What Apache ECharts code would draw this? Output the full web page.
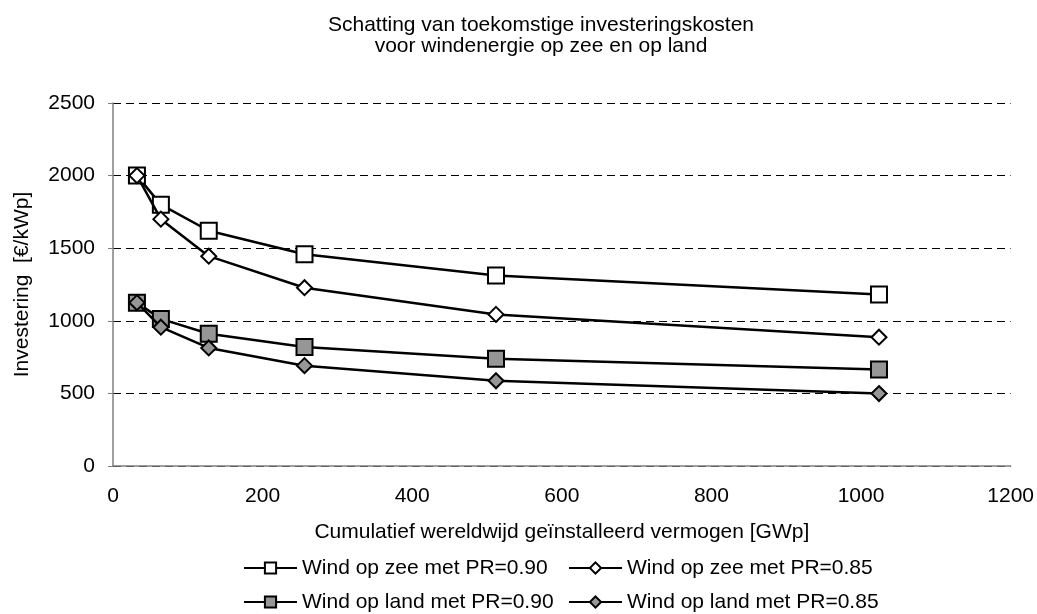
<!DOCTYPE html>
<html>
<head>
<meta charset="utf-8">
<script src="https://cdn.jsdelivr.net/npm/echarts@6/dist/echarts.min.js"></script>
<style>
html,body{margin:0;padding:0;background:#fff;}
#chart{width:1037px;height:614px;}
</style>
</head>
<body>
<div id="chart"></div>
<script>
const titleLines = ['Schatting van toekomstige investeringskosten', 'voor windenergie op zee en op land'];
const xName = 'Cumulatief wereldwijd geïnstalleerd vermogen [GWp]';
const yName = 'Investering  [€/kWp]';
const seriesNames = ['Wind op zee met PR=0.90', 'Wind op zee met PR=0.85', 'Wind op land met PR=0.90', 'Wind op land met PR=0.85'];
const xValues = [32, 64, 128, 256, 512, 1024];
const zee90 = [2000, 1800, 1620, 1458, 1312, 1181];
const zee85 = [2000, 1700, 1445, 1228, 1044, 887];
const land90 = [1125, 1013, 911, 820, 738, 664];
const land85 = [1125, 956, 813, 691, 587, 499];

const FONT = 'Liberation Sans, Arial, sans-serif';
const FS = 21;

function pairs(ys){ return xValues.map((x,i)=>[x, ys[i]]); }

const styles = [
  {data: zee90, symbol: 'rect', fill: '#ffffff', size: 16},
  {data: zee85, symbol: 'diamond', fill: '#ffffff', size: 15},
  {data: land90, symbol: 'rect', fill: '#969696', size: 16},
  {data: land85, symbol: 'diamond', fill: '#969696', size: 15}
];

const series = styles.map((s, i) => ({
  name: seriesNames[i],
  type: 'line',
  data: pairs(s.data),
  symbol: s.symbol,
  symbolSize: s.size,
  showAllSymbol: true,
  lineStyle: {color: '#000', width: 2.5},
  itemStyle: {color: s.fill, borderColor: '#000', borderWidth: 2},
  emphasis: {disabled: true},
  z: 2 + i,
  animation: false
}));

const legendPos = [[243, 557], [568, 557], [243, 591], [568, 591]];
const legends = seriesNames.map((n, i) => ({
  data: [n],
  left: legendPos[i][0],
  top: legendPos[i][1],
  itemWidth: 53,
  itemHeight: 14,
  itemGap: 0,
  padding: 0,
  selectedMode: false,
  textStyle: {fontFamily: FONT, fontSize: FS, color: '#000', lineHeight: 22}
}));

const option = {
  backgroundColor: '#fff',
  animation: false,
  title: {
    text: titleLines.join('\n'),
    left: 536,
    top: 10,
    textAlign: 'center',
    textStyle: {fontFamily: FONT, fontSize: FS, fontWeight: 'normal', color: '#000', lineHeight: 21}
  },
  legend: legends,
  grid: {left: 113, right: 25, top: 103, bottom: 148},
  xAxis: {
    type: 'value',
    min: 0, max: 1200, interval: 200,
    name: xName,
    nameLocation: 'middle',
    nameGap: 56,
    nameTextStyle: {fontFamily: FONT, fontSize: FS, color: '#000'},
    axisLine: {show: true, lineStyle: {color: '#808080', width: 1.5}},
    axisTick: {show: false},
    axisLabel: {fontFamily: FONT, fontSize: FS, color: '#000', margin: 20, formatter: v => String(v)},
    splitLine: {show: false}
  },
  yAxis: {
    type: 'value',
    min: 0, max: 2500, interval: 500,
    name: yName,
    nameLocation: 'middle',
    nameGap: 80,
    nameTextStyle: {fontFamily: FONT, fontSize: FS, color: '#000'},
    axisLine: {show: true, lineStyle: {color: '#808080', width: 1.5}},
    axisTick: {show: true, inside: false, length: 5, lineStyle: {color: '#808080', width: 1}},
    axisLabel: {fontFamily: FONT, fontSize: FS, color: '#000', margin: 18, formatter: v => String(v)},
    splitLine: {show: true, lineStyle: {color: '#000', width: 1, type: [8, 5]}}
  },
  series: series
};

const chart = echarts.init(document.getElementById('chart'), null, {renderer: 'canvas'});
chart.setOption(option);
</script>
</body>
</html>
